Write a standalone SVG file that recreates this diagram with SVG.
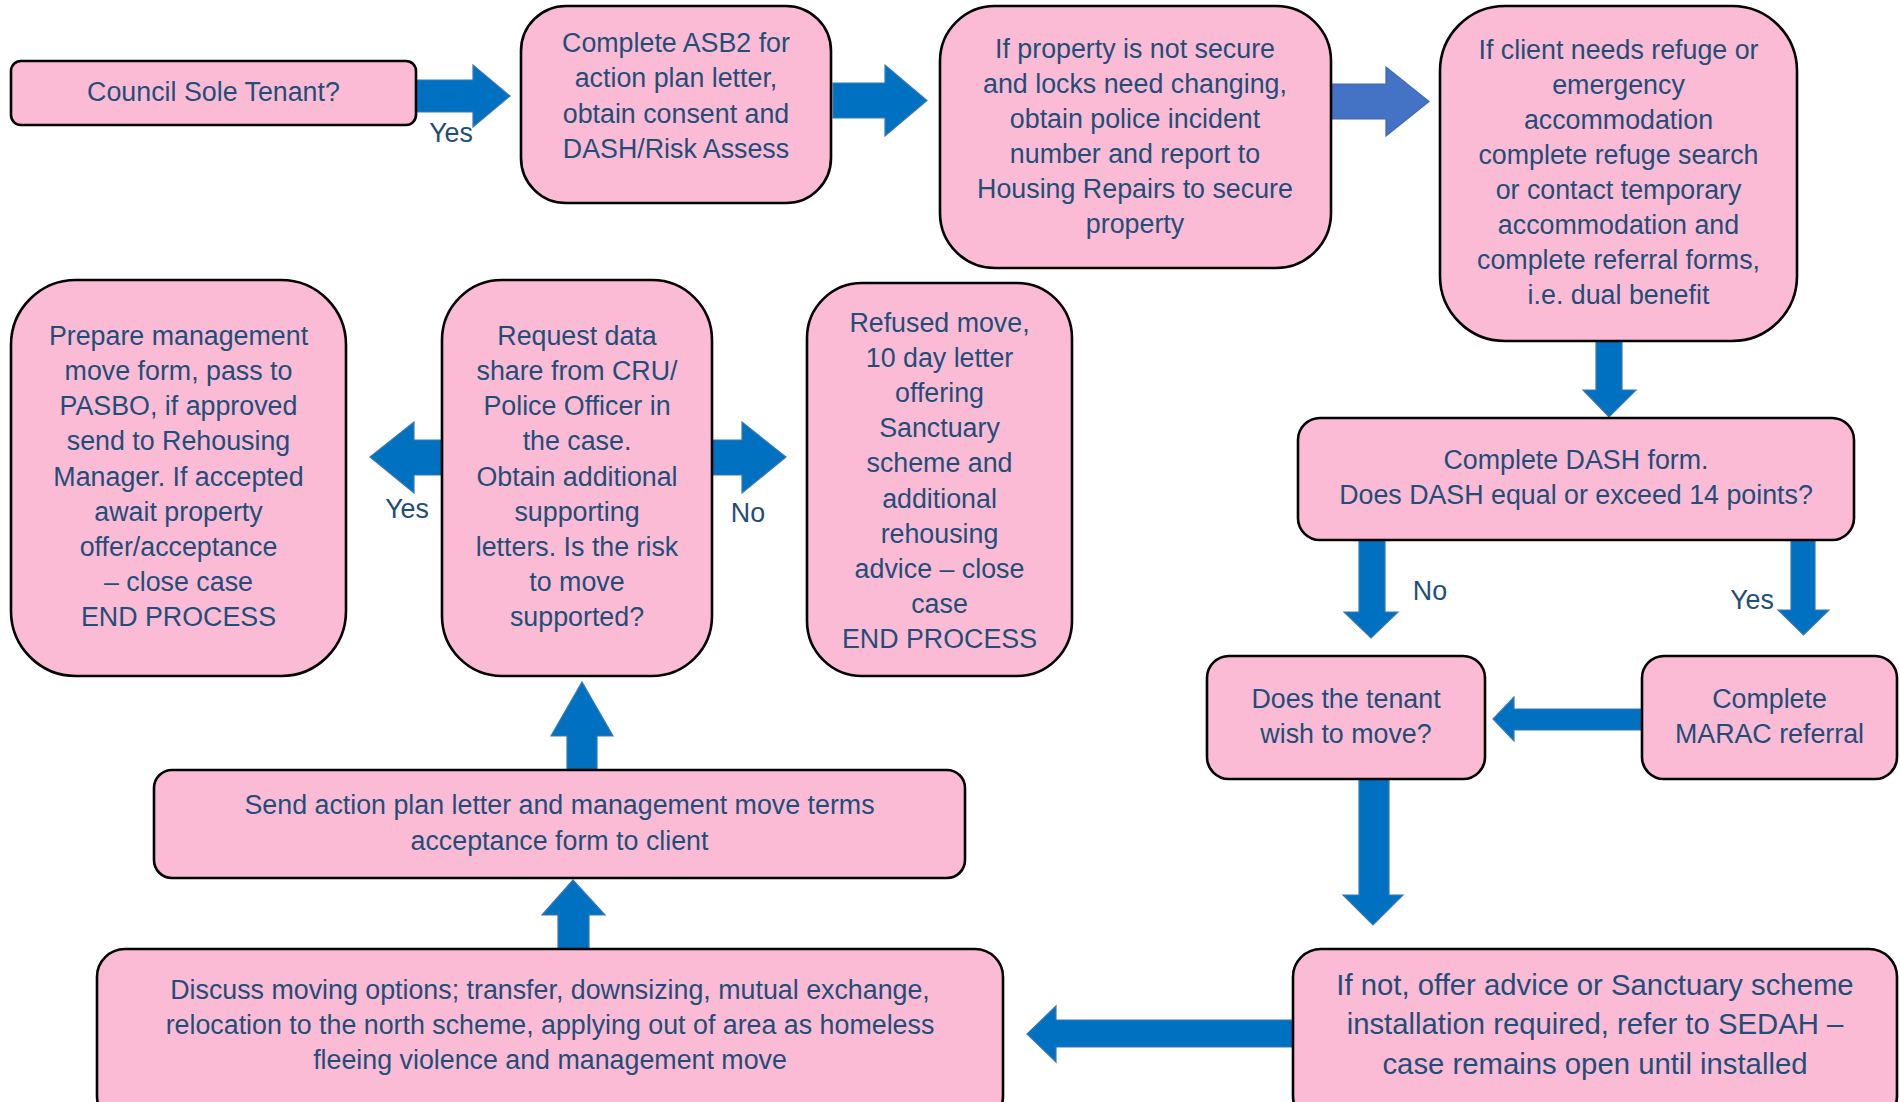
<svg xmlns="http://www.w3.org/2000/svg" width="1900" height="1102" viewBox="0 0 1900 1102">
<style>
.box{fill:#FBBBD5;stroke:#000;stroke-width:2.6}
.t{font-family:"Liberation Sans",Arial,sans-serif;font-size:26.8px;fill:#1F4E79;text-anchor:middle}
.big{font-size:29.3px}
.arr{fill:#0070C0;stroke:#3A78B5;stroke-width:1.2}
.arr2{fill:#4472C4;stroke:#3F69B0;stroke-width:1.2}
</style>
<rect width="1900" height="1102" fill="#fff"/>
<g id="connectors">
<polygon class="arr" points="417,80 473,80 473,65 510,96 473,127 473,112 417,112"/>
<polygon class="arr" points="833,83 885,83 885,65 927,100.5 885,136 885,118 833,118"/>
<polygon class="arr2" points="1331,84 1386,84 1386,67 1429,101.5 1386,136 1386,119 1331,119"/>
<polygon class="arr" points="1596,341 1622,341 1622,390 1636,390 1609,417 1583,390 1596,390"/>
<polygon class="arr" points="1359,540 1385,540 1385,612 1398,612 1371,638 1344,612 1359,612"/>
<polygon class="arr" points="1791,540 1815,540 1815,610 1829,610 1803.5,635 1778,610 1791,610"/>
<polygon class="arr" points="1641,709 1514,709 1514,697 1493,719 1514,741 1514,730 1641,730"/>
<polygon class="arr" points="1359,779 1389,779 1389,895 1403,895 1373,925 1343,895 1359,895"/>
<polygon class="arr" points="1293,1020 1056,1020 1056,1006 1027,1034 1056,1062 1056,1047 1293,1047"/>
<polygon class="arr" points="558,949 589,949 589,915 605,915 573,880 542,915 558,915"/>
<polygon class="arr" points="567,770 597,770 597,736 613,736 582,682 551,736 567,736"/>
<polygon class="arr" points="443,440 414,440 414,422 370,457 414,493 414,475 443,475"/>
<polygon class="arr" points="712,440 742,440 742,422 786,457 742,493 742,475 712,475"/>
<text class="t" x="451" y="142">Yes</text>
<text class="t" x="407" y="518">Yes</text>
<text class="t" x="748" y="522">No</text>
<text class="t" x="1430" y="600">No</text>
<text class="t" x="1752" y="609">Yes</text>
</g>
<g id="n1"><rect class="box" x="11" y="61" width="405" height="64" rx="10"/>
<text class="t" x="213.5" y="100.5">Council Sole Tenant?</text></g>
<g id="n2"><rect class="box" x="521" y="6" width="310" height="197" rx="45"/>
<text class="t" x="676"><tspan x="676" y="51.5">Complete ASB2 for</tspan><tspan x="676" y="87">action plan letter,</tspan><tspan x="676" y="122.5">obtain consent and</tspan><tspan x="676" y="157.5">DASH/Risk Assess</tspan></text></g>
<g id="n3"><rect class="box" x="940" y="6" width="391" height="262" rx="55"/>
<text class="t" x="1135"><tspan x="1135" y="58">If property is not secure</tspan><tspan x="1135" y="93">and locks need changing,</tspan><tspan x="1135" y="128">obtain police incident</tspan><tspan x="1135" y="163">number and report to</tspan><tspan x="1135" y="198">Housing Repairs to secure</tspan><tspan x="1135" y="233">property</tspan></text></g>
<g id="n4"><rect class="box" x="1440" y="6" width="357" height="335" rx="65"/>
<text class="t" x="1618.5"><tspan x="1618.5" y="59">If client needs refuge or</tspan><tspan x="1618.5" y="94">emergency</tspan><tspan x="1618.5" y="129">accommodation</tspan><tspan x="1618.5" y="164">complete refuge search</tspan><tspan x="1618.5" y="199">or contact temporary</tspan><tspan x="1618.5" y="234">accommodation and</tspan><tspan x="1618.5" y="269">complete referral forms,</tspan><tspan x="1618.5" y="304">i.e. dual benefit</tspan></text></g>
<g id="n5"><rect class="box" x="1298" y="418" width="556" height="122" rx="22"/>
<text class="t" x="1576"><tspan x="1576" y="468.5">Complete DASH form.</tspan><tspan x="1576" y="504">Does DASH equal or exceed 14 points?</tspan></text></g>
<g id="n6"><rect class="box" x="1207" y="656" width="278" height="123" rx="22"/>
<text class="t" x="1346"><tspan x="1346" y="707.5">Does the tenant</tspan><tspan x="1346" y="742.5">wish to move?</tspan></text></g>
<g id="n7"><rect class="box" x="1642" y="656" width="255" height="123" rx="22"/>
<text class="t" x="1769.5"><tspan x="1769.5" y="707.5">Complete</tspan><tspan x="1769.5" y="742.5">MARAC referral</tspan></text></g>
<g id="n8"><rect class="box" x="11" y="280" width="335" height="396" rx="65"/>
<text class="t" x="178.5"><tspan x="178.5" y="345">Prepare management</tspan><tspan x="178.5" y="380">move form, pass to</tspan><tspan x="178.5" y="415">PASBO, if approved</tspan><tspan x="178.5" y="450">send to Rehousing</tspan><tspan x="178.5" y="486">Manager. If accepted</tspan><tspan x="178.5" y="521">await property</tspan><tspan x="178.5" y="556">offer/acceptance</tspan><tspan x="178.5" y="591">– close case</tspan><tspan x="178.5" y="626">END PROCESS</tspan></text></g>
<g id="n9"><rect class="box" x="442" y="280" width="270" height="396" rx="60"/>
<text class="t" x="577"><tspan x="577" y="345">Request data</tspan><tspan x="577" y="380">share from CRU/</tspan><tspan x="577" y="415">Police Officer in</tspan><tspan x="577" y="450">the case.</tspan><tspan x="577" y="486">Obtain additional</tspan><tspan x="577" y="521">supporting</tspan><tspan x="577" y="556">letters. Is the risk</tspan><tspan x="577" y="591">to move</tspan><tspan x="577" y="626">supported?</tspan></text></g>
<g id="n10"><rect class="box" x="807" y="283" width="265" height="393" rx="55"/>
<text class="t" x="939.5"><tspan x="939.5" y="332">Refused move,</tspan><tspan x="939.5" y="367">10 day letter</tspan><tspan x="939.5" y="402">offering</tspan><tspan x="939.5" y="437">Sanctuary</tspan><tspan x="939.5" y="472">scheme and</tspan><tspan x="939.5" y="507.5">additional</tspan><tspan x="939.5" y="543">rehousing</tspan><tspan x="939.5" y="578">advice – close</tspan><tspan x="939.5" y="613">case</tspan><tspan x="939.5" y="648">END PROCESS</tspan></text></g>
<g id="n11"><rect class="box" x="154" y="770" width="811" height="108" rx="18"/>
<text class="t" x="559.5"><tspan x="559.5" y="814">Send action plan letter and management move terms</tspan><tspan x="559.5" y="849.5">acceptance form to client</tspan></text></g>
<g id="n12"><rect class="box" x="97" y="949" width="906" height="175" rx="28"/>
<text class="t" x="550"><tspan x="550" y="998.5">Discuss moving options; transfer, downsizing, mutual exchange,</tspan><tspan x="550" y="1033.5">relocation to the north scheme, applying out of area as homeless</tspan><tspan x="550" y="1068.5">fleeing violence and management move</tspan></text></g>
<g id="n13"><rect class="box" x="1293" y="949" width="604" height="175" rx="28"/>
<text class="t big" x="1595"><tspan x="1595" y="994.5">If not, offer advice or Sanctuary scheme</tspan><tspan x="1595" y="1034">installation required, refer to SEDAH –</tspan><tspan x="1595" y="1073.5">case remains open until installed</tspan></text></g>
</svg>
